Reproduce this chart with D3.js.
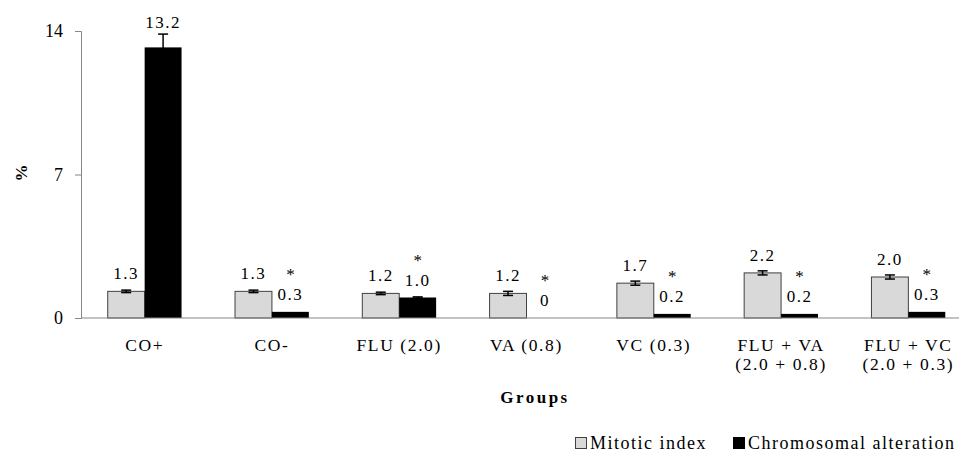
<!DOCTYPE html>
<html>
<head>
<meta charset="utf-8">
<script src="https://cdn.jsdelivr.net/npm/d3@7"></script>
<style>
	body { margin: 0; background: #fff; }
	svg text { font-family: "Liberation Serif", "Times New Roman", Times, serif; fill: #000; }
</style>
</head>
<body>
<svg id="chart" width="959" height="456"></svg>
<script>
var groups = ['CO+', 'CO-', 'FLU (2.0)', 'VA (0.8)', 'VC (0.3)', 'FLU + VA|(2.0 + 0.8)', 'FLU + VC|(2.0 + 0.3)'];
var seriesNames = ['Mitotic index', 'Chromosomal alteration'];
var mitoticIndex = [1.3, 1.3, 1.2, 1.2, 1.7, 2.2, 2.0];
var mitoticErr = [0.06, 0.06, 0.06, 0.1, 0.1, 0.1, 0.1];
var chromAlteration = [13.2, 0.3, 1.0, 0, 0.2, 0.2, 0.3];
var chromErr = [0.65, 0, 0.03, 0, 0, 0, 0];
var mitoticLabels = ['1.3', '1.3', '1.2', '1.2', '1.7', '2.2', '2.0'];
var chromLabels = ['13.2', '0.3', '1.0', '0', '0.2', '0.2', '0.3'];
var chromStars = [false, true, true, true, true, true, true];
var yTicks = [0, 7, 14];

var colors = ['#d9d9d9', '#000000'];
var serif = '"Liberation Serif", "Times New Roman", Times, serif';

var svg = d3.select('#chart');

var plotLeft = 81, plotTop = 31, plotBottom = 318, plotRight = 972;

var y = d3.scaleLinear().domain([0, 14]).range([plotBottom, plotTop]);
var x0 = d3.scaleBand().domain(groups).range([plotLeft, plotRight]).paddingInner(0.42).paddingOuter(0.21);
var x1 = d3.scaleBand().domain(seriesNames).range([0, x0.bandwidth()]);

// y axis
var yAxis = svg.append('g')
	.attr('transform', 'translate(' + plotLeft + ',0)')
	.call(d3.axisLeft(y).tickValues(yTicks).tickSize(6).tickPadding(12).tickFormat(d3.format('d')));
yAxis.attr('font-family', serif).attr('font-size', 18);
yAxis.select('.domain').attr('stroke', '#868686');
yAxis.selectAll('.tick line').attr('stroke', '#868686');
yAxis.selectAll('.tick text').attr('fill', '#000');

// rows of data per group
var rows = groups.map(function(g, i) {
	return [
		{ g: g, s: seriesNames[0], v: mitoticIndex[i], e: mitoticErr[i], label: mitoticLabels[i], star: false },
		{ g: g, s: seriesNames[1], v: chromAlteration[i], e: chromErr[i], label: chromLabels[i], star: chromStars[i] }
	];
});

var groupSel = svg.selectAll('g.group')
	.data(rows)
	.enter().append('g')
	.attr('class', 'group')
	.attr('transform', function(d) { return 'translate(' + x0(d[0].g) + ',0)'; });

groupSel.selectAll('rect')
	.data(function(d) { return d; })
	.enter().append('rect')
	.attr('x', function(d) { return x1(d.s); })
	.attr('y', function(d) { return y(d.v); })
	.attr('width', x1.bandwidth())
	.attr('height', function(d) { return plotBottom - y(d.v); })
	.attr('fill', function(d, i) { return colors[i]; })
	.attr('stroke', function(d, i) { return i === 0 ? '#404040' : 'none'; })
	.attr('stroke-width', 1);

// error bars
var errs = groupSel.selectAll('g.err')
	.data(function(d) { return d.filter(function(r) { return r.e > 0; }); })
	.enter().append('g')
	.attr('class', 'err')
	.attr('stroke', '#000')
	.attr('stroke-width', 1.5);
errs.append('line')
	.attr('x1', function(d) { return x1(d.s) + x1.bandwidth() / 2; })
	.attr('x2', function(d) { return x1(d.s) + x1.bandwidth() / 2; })
	.attr('y1', function(d) { return y(d.v - d.e); })
	.attr('y2', function(d) { return y(d.v + d.e); });
[-1, 1].forEach(function(sign) {
	errs.append('line')
		.attr('x1', function(d) { return x1(d.s) + x1.bandwidth() / 2 - 5; })
		.attr('x2', function(d) { return x1(d.s) + x1.bandwidth() / 2 + 5; })
		.attr('y1', function(d) { return y(d.v + sign * d.e); })
		.attr('y2', function(d) { return y(d.v + sign * d.e); });
});

// value labels (with * line above)
function labelBase(d) {
	return Math.min(y(d.v) - 12, y(d.v + d.e) - 6);
}
groupSel.selectAll('text.val')
	.data(function(d) { return d; })
	.enter().append('text')
	.attr('class', 'val')
	.attr('x', function(d) { return x1(d.s) + x1.bandwidth() / 2; })
	.attr('y', labelBase)
	.attr('text-anchor', 'middle')
	.style('font-size', '17px')
	.style('letter-spacing', '1.5px')
	.text(function(d) { return d.label; });

groupSel.selectAll('text.star')
	.data(function(d) { return d.filter(function(r) { return r.star; }); })
	.enter().append('text')
	.attr('class', 'star')
	.attr('x', function(d) { return x1(d.s) + x1.bandwidth() / 2; })
	.attr('y', function(d) { return labelBase(d) - 20; })
	.attr('text-anchor', 'middle')
	.style('font-size', '17px')
	.text('*');

// x axis line
svg.append('line')
	.attr('x1', plotLeft).attr('x2', plotRight)
	.attr('y1', plotBottom).attr('y2', plotBottom)
	.attr('stroke', '#868686');

// category labels
groups.forEach(function(g) {
	var lines = g.split('|');
	var t = svg.append('text')
		.attr('text-anchor', 'middle')
		.style('font-size', '17.5px')
		.style('letter-spacing', '1.6px');
	lines.forEach(function(l, i) {
		t.append('tspan')
			.attr('x', x0(g) + x0.bandwidth() / 2)
			.attr('y', 351 + i * 19)
			.text(l);
	});
});

svg.append('text')
	.attr('x', 535).attr('y', 403)
	.attr('text-anchor', 'middle')
	.style('font-size', '17px')
	.style('font-weight', 'bold')
	.style('letter-spacing', '2.5px')
	.text('Groups');

svg.append('text')
	.attr('transform', 'translate(27,173) rotate(-90)')
	.attr('text-anchor', 'middle')
	.style('font-size', '17px')
	.style('font-weight', 'bold')
	.text('%');

// legend
var legendX = [575, 733];
seriesNames.forEach(function(s, i) {
	svg.append('rect')
		.attr('x', legendX[i] + 0.5).attr('y', 437.5)
		.attr('width', 11).attr('height', 11)
		.attr('fill', colors[i])
		.attr('stroke', i === 0 ? '#404040' : '#000');
	svg.append('text')
		.attr('x', legendX[i] + 15).attr('y', 449)
		.style('font-size', '18px')
		.style('letter-spacing', '1.5px')
		.text(s);
});
</script>
</body>
</html>
